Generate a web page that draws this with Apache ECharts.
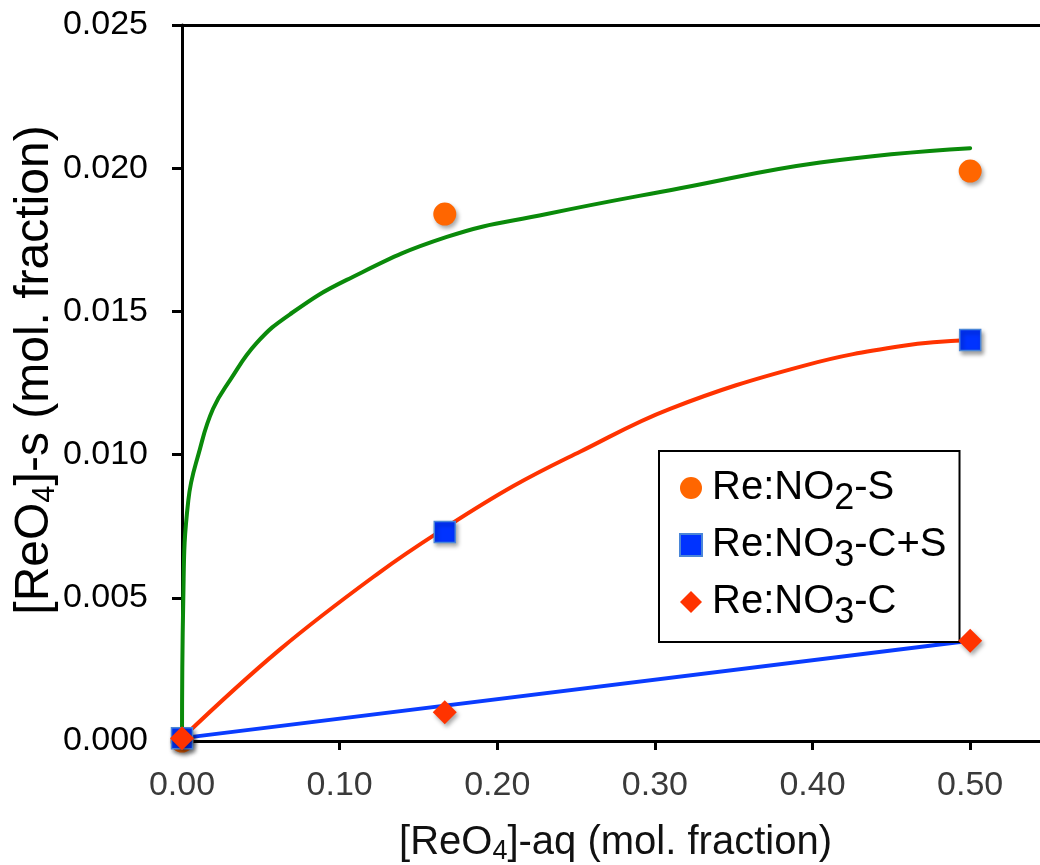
<!DOCTYPE html>
<html>
<head>
<meta charset="utf-8">
<script src="https://cdn.jsdelivr.net/npm/echarts@6/dist/echarts.min.js"></script>
<style>html,body{margin:0;padding:0;background:#fff;}#c{width:1040px;height:865px;}</style>
</head>
<body>
<div id="c"></div>
<script>
// ---- data ----
const seriesNames = ['Re:NO2-S', 'Re:NO3-C+S', 'Re:NO3-C'];
const ptsNO2S = [[0, 0.0000], [0.1667, 0.0184], [0.5, 0.0199]];
const ptsNO3CS = [[0, 0.0001], [0.1667, 0.0073], [0.5, 0.0140]];
const ptsNO3C = [[0, 0.0001], [0.1667, 0.0010], [0.5, 0.0035]];
// fitted curves
const fitGreen = [[0, 0], [0.0008, 0.0049], [0.004, 0.0084], [0.0114, 0.0102], [0.0197, 0.0116],
  [0.0305, 0.0126], [0.0474, 0.0139], [0.0685, 0.0149], [0.1045, 0.0161], [0.168, 0.0176],
  [0.2314, 0.0184], [0.316, 0.0193], [0.4048, 0.0202], [0.5, 0.0207]];
const fitRed = [[0, 0.0001], [0.0622, 0.0032], [0.1256, 0.0059], [0.1658, 0.0074], [0.2102, 0.0089],
  [0.2525, 0.0101], [0.3096, 0.0116], [0.3942, 0.0131], [0.4577, 0.0138], [0.5, 0.0140]];
const fitBlue = [[0, 0.0001], [0.5, 0.0035]];
const xTitle = '[ReO{sub|4}]-aq (mol. fraction)';
const yTitle = '[ReO{sub|4}]-s (mol. fraction)';

const FONT = 'Liberation Sans, Arial, Helvetica, sans-serif';
const shadow = {shadowBlur: 4, shadowOffsetX: 2, shadowOffsetY: 3, shadowColor: 'rgba(0,0,0,0.35)'};

const chart = echarts.init(document.getElementById('c'), null, {renderer: 'canvas'});
chart.setOption({
  backgroundColor: '#fff',
  animation: false,
  grid: {left: 182, right: -9, top: 25, bottom: 124, containLabel: false, outerBoundsMode: 'none'},
  legend: {
    data: seriesNames.map((n, i) => ({name: n, icon: ['circle', 'rect', 'diamond'][i]})),
    orient: 'vertical',
    left: 659, top: 451,
    padding: [17, 13, 11, 20],
    itemGap: 8,
    itemWidth: 22, itemHeight: 22,
    borderColor: '#000', borderWidth: 2,
    backgroundColor: '#fff',
    formatter: n => n.replace(/NO(\d)/, 'NO{sub|$1}'),
    textStyle: {fontSize: 40, fontFamily: FONT, color: '#000', padding: [0, 0, 0, 5],
      rich: {sub: {fontSize: 36, fontFamily: FONT, color: '#000', padding: [22, 0, 0, 0]}}}
  },
  xAxis: [{
    type: 'value', min: 0, max: 0.55, interval: 0.1,
    splitLine: {show: false},
    axisLine: {onZero: false, lineStyle: {color: '#000', width: 3}},
    axisTick: {length: 9, lineStyle: {color: '#000', width: 3}},
    axisLabel: {fontSize: 34, fontFamily: FONT, color: '#3a3a3a', margin: 28,
      formatter: v => v > 0.5001 ? '' : v.toFixed(2)},
    name: xTitle, nameLocation: 'middle', nameGap: 79, nameMoveOverlap: false,
    nameTextStyle: {fontSize: 40, fontFamily: FONT, color: '#111',
      rich: {sub: {fontSize: 27, fontFamily: FONT, color: '#111', padding: [18, 0, 0, 0]}}}
  }, {
    type: 'value', min: 0, max: 0.55, position: 'top',
    splitLine: {show: false},
    axisLine: {onZero: false, lineStyle: {color: '#000', width: 3}},
    axisTick: {show: false}, axisLabel: {show: false}
  }],
  yAxis: {
    type: 'value', min: 0, max: 0.025, interval: 0.005,
    splitLine: {show: false},
    axisLine: {onZero: false, lineStyle: {color: '#000', width: 3}},
    axisTick: {length: 10, lineStyle: {color: '#000', width: 3}},
    axisLabel: {fontSize: 34, fontFamily: FONT, color: '#000', margin: 34,
      formatter: v => v.toFixed(3)},
    name: yTitle, nameLocation: 'middle', nameGap: 121, nameMoveOverlap: false,
    nameTextStyle: {fontSize: 48, fontFamily: FONT, color: '#000', padding: [0, 0, 0, 26],
      rich: {sub: {fontSize: 31, fontFamily: FONT, color: '#000', padding: [21, 0, 0, 0]}}}
  },
  series: [
    {type: 'line', data: fitGreen, smooth: 0.45, showSymbol: false, silent: true,
      lineStyle: {color: '#0a8a0a', width: 4, cap: 'round'}, z: 2},
    {type: 'line', data: fitRed, smooth: 0.4, showSymbol: false, silent: true,
      lineStyle: {color: '#ff3300', width: 4, cap: 'round'}, z: 2},
    {type: 'line', data: fitBlue, showSymbol: false, silent: true,
      lineStyle: {color: '#0a3cff', width: 4, cap: 'round'}, z: 2},
    {name: seriesNames[0], type: 'scatter', data: ptsNO2S, symbol: 'circle', symbolSize: 23, z: 5,
      itemStyle: Object.assign({color: '#ff6600', opacity: 1}, shadow)},
    {name: seriesNames[1], type: 'scatter', data: ptsNO3CS, symbol: 'rect', symbolSize: 21, z: 6,
      itemStyle: Object.assign({color: '#0033ff', borderColor: '#4a86d8', borderWidth: 1.5, opacity: 1}, shadow)},
    {name: seriesNames[2], type: 'scatter', data: ptsNO3C, symbol: 'diamond', symbolSize: 24, z: 7,
      itemStyle: Object.assign({color: '#ff3300', opacity: 1}, shadow)}
  ]
});
</script>
</body>
</html>
